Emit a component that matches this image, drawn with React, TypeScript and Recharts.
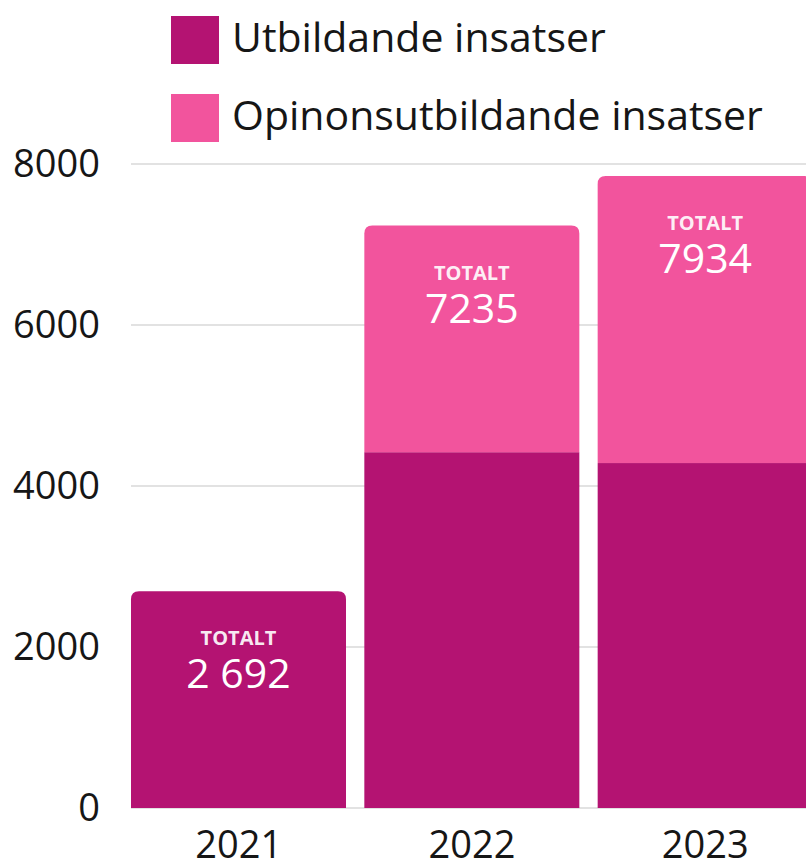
import { BarChart, Bar, XAxis, YAxis, CartesianGrid, LabelList } from 'recharts';

const years = ['2021', '2022', '2023'];
const utbildande = [2692, 4420, 4285];
const opinion = [0, 2815, 3565];
const totals = ['2 692', '7235', '7934'];
const yTicks = [0, 2000, 4000, 6000, 8000];

const DARK = '#B41372';
const PINK = '#F2549D';
const FONT = '"Open Sans", "Noto Sans", sans-serif';
const TEXT = '#161616';

const data = years.map((year, i) => ({
  year,
  utbildande: utbildande[i],
  opinion: opinion[i],
  total: totals[i],
}));

const topPath = (x: number, y: number, w: number, h: number, r: number) => {
  const rr = Math.min(r, h, w / 2);
  return `M${x},${y + h} L${x},${y + rr} Q${x},${y} ${x + rr},${y} L${x + w - rr},${y} Q${x + w},${y} ${x + w},${y + rr} L${x + w},${y + h} Z`;
};

const StackShape = (props: any) => {
  const { x, y, width, height, fill, payload, dataKey } = props;
  if (!height || height <= 0) return null;
  const isTop = dataKey === 'opinion' || !payload.opinion;
  if (isTop) return <path d={topPath(x, y, width, height, 8)} fill={fill} />;
  return <rect x={x} y={y} width={width} height={height} fill={fill} />;
};

const TotalLabel = (props: any) => {
  const { x, y, width, index } = props;
  const cx = x + width / 2;
  return (
    <g fontFamily={FONT} fill="#fff" textAnchor="middle">
      <text x={cx} y={y + 54} fontSize={20} fontWeight={700} fillOpacity={0.92}>TOTALT</text>
      <text x={cx} y={y + 97} fontSize={41} fontWeight={500}>{totals[index]}</text>
    </g>
  );
};

export default function App() {
  return (
    <div style={{ position: 'absolute', left: 0, top: 0, width: 806, height: 861, overflow: 'hidden', background: '#fff', fontFamily: FONT }}>
      <div style={{ position: 'absolute', left: 171, top: 16, width: 48, height: 48, background: DARK }} />
      <div style={{ position: 'absolute', left: 232, top: 16, fontSize: 41, fontWeight: 500, lineHeight: '40px', color: TEXT, whiteSpace: 'nowrap' }}>Utbildande insatser</div>
      <div style={{ position: 'absolute', left: 171, top: 94, width: 48, height: 48, background: PINK }} />
      <div style={{ position: 'absolute', left: 232, top: 94, fontSize: 41, fontWeight: 500, lineHeight: '40px', color: TEXT, whiteSpace: 'nowrap' }}>Opinonsutbildande insatser</div>
      <BarChart
        width={822}
        height={861}
        data={data}
        margin={{ top: 164, right: 0, bottom: 0, left: 0 }}
        barCategoryGap={9}
        style={{ position: 'absolute', left: 0, top: 0 }}
      >
        <CartesianGrid vertical={false} stroke="#e2e2e2" strokeWidth={2} />
        <XAxis
          dataKey="year"
          axisLine={false}
          tickLine={false}
          tickSize={0}
          tickMargin={23}
          height={53}
          padding={{ left: -9, right: 0 }}
          tick={{ fontSize: 38, fontWeight: 500, fill: TEXT, fontFamily: FONT }}
        />
        <YAxis
          width={131}
          domain={[0, 8000]}
          ticks={yTicks}
          axisLine={false}
          tickLine={false}
          tickSize={0}
          tickMargin={31}
          tick={{ fontSize: 38, fontWeight: 500, fill: TEXT, fontFamily: FONT }}
        />
        <Bar dataKey="utbildande" stackId="a" fill={DARK} shape={<StackShape dataKey="utbildande" />} isAnimationActive={false} />
        <Bar dataKey="opinion" stackId="a" fill={PINK} shape={<StackShape dataKey="opinion" />} isAnimationActive={false}>
          <LabelList dataKey="total" content={<TotalLabel />} />
        </Bar>
      </BarChart>
    </div>
  );
}
